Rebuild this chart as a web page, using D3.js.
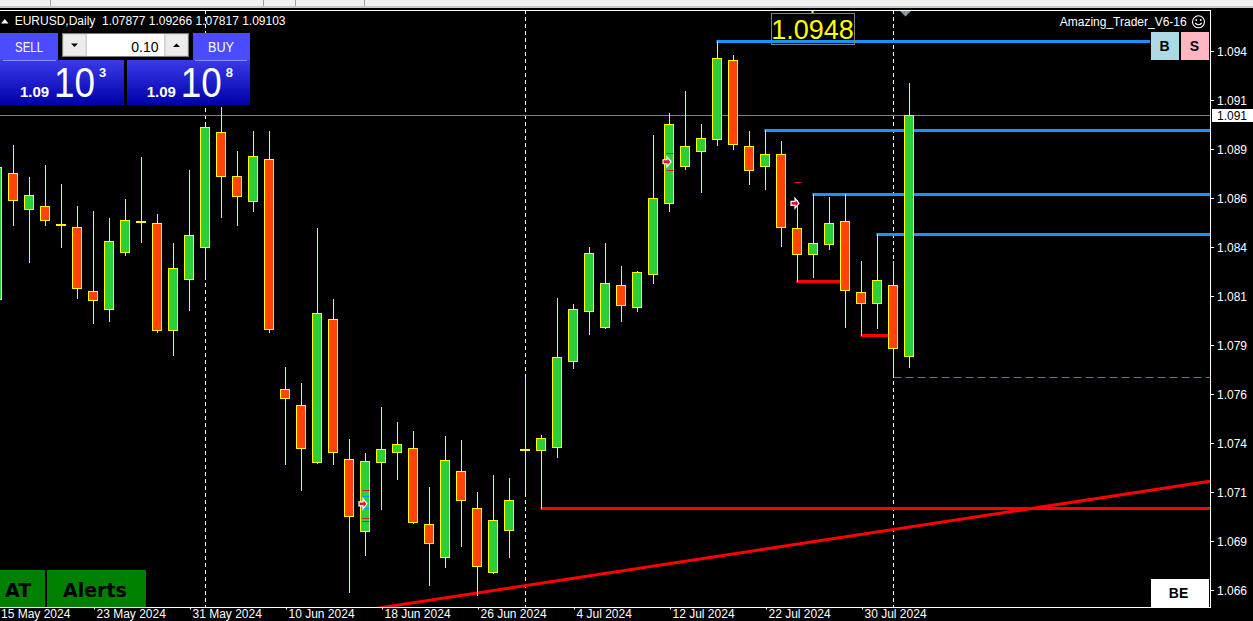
<!DOCTYPE html>
<html><head><meta charset="utf-8">
<script src="https://cdn.jsdelivr.net/npm/d3@7/dist/d3.min.js"></script>
<style>html,body{margin:0;padding:0;background:#000;overflow:hidden}svg{display:block}text{font-family:"Liberation Sans",Arial,sans-serif}</style>
</head><body><svg id="c" width="1253" height="621"></svg>
<script>
// ---------- data ----------
const dates = [
 "2024-05-15","2024-05-16","2024-05-17","2024-05-20","2024-05-21","2024-05-22","2024-05-23","2024-05-24","2024-05-27","2024-05-28","2024-05-29","2024-05-30","2024-05-31",
 "2024-06-03","2024-06-04","2024-06-05","2024-06-06","2024-06-07","2024-06-10","2024-06-11","2024-06-12","2024-06-13","2024-06-14","2024-06-17","2024-06-18","2024-06-19","2024-06-20","2024-06-21","2024-06-24","2024-06-25","2024-06-26","2024-06-27","2024-06-28",
 "2024-07-01","2024-07-02","2024-07-03","2024-07-04","2024-07-05","2024-07-08","2024-07-09","2024-07-10","2024-07-11","2024-07-12","2024-07-15","2024-07-16","2024-07-17","2024-07-18","2024-07-19","2024-07-22","2024-07-23","2024-07-24","2024-07-25","2024-07-26","2024-07-29","2024-07-30","2024-07-31",
 "2024-08-01","2024-08-02"];
const open  = [1.08164,1.08807,1.08624,1.08639,1.08550,1.08532,1.08205,1.08113,1.08404,1.08564,1.08552,1.08006,1.08266,
 1.08430,1.09016,1.08792,1.08664,1.08879,1.07705,1.07624,1.07333,1.08062,1.07348,1.06981,1.07333,1.07384,1.07404,1.07016,1.06848,1.07287,1.07098,1.06771,1.06986,
 1.07401,1.07394,1.07409,1.07851,1.08106,1.08025,1.08236,1.08124,1.08295,1.08654,1.08846,1.08922,1.08984,1.09384,1.08945,1.08843,1.08904,1.08527,1.08394,1.08448,1.08562,1.08200,1.08144,
 1.08236,1.07877];
const high  = [1.08875,1.08952,1.08788,1.08850,1.08753,1.08640,1.08615,1.08579,1.08676,1.08890,1.08600,1.08452,1.08824,
 1.09050,1.09147,1.08921,1.09023,1.09023,1.07817,1.07736,1.08528,1.08164,1.07452,1.07380,1.07613,1.07537,1.07492,1.07207,1.07467,1.07446,1.07181,1.07268,1.07251,
 1.07769,1.07470,1.08171,1.08140,1.08431,1.08452,1.08334,1.08309,1.09003,1.09115,1.09227,1.09059,1.09482,1.09411,1.09023,1.09030,1.08972,1.08671,1.08700,1.08686,1.08700,1.08360,1.08496,
 1.08360,1.09266];
const low   = [1.08135,1.08543,1.08355,1.08543,1.08433,1.08172,1.08045,1.08055,1.08392,1.08458,1.07999,1.07882,1.08111,
 1.08275,1.08586,1.08543,1.08616,1.07996,1.07324,1.07191,1.07329,1.07326,1.06673,1.06861,1.07096,1.07249,1.07021,1.06708,1.06800,1.06907,1.06656,1.06766,1.06851,
 1.07183,1.07098,1.07361,1.07814,1.07987,1.08019,1.08055,1.08106,1.08249,1.08616,1.08831,1.08712,1.08952,1.08933,1.08754,1.08729,1.08438,1.08256,1.08280,1.08421,1.08025,1.07981,1.08019,
 1.07768,1.07817];
const close = [1.08838,1.08671,1.08695,1.08567,1.08542,1.08220,1.08159,1.08460,1.08567,1.08564,1.08006,1.08322,1.08491,
 1.09042,1.08792,1.08690,1.08894,1.08014,1.07659,1.07404,1.08093,1.07384,1.07057,1.07338,1.07399,1.07425,1.07027,1.06919,1.07343,1.07142,1.06802,1.07037,1.07139,
 1.07401,1.07455,1.07868,1.08113,1.08399,1.08246,1.08137,1.08302,1.08680,1.09057,1.08945,1.08986,1.09394,1.08958,1.08822,1.08904,1.08532,1.08394,1.08452,1.08554,1.08210,1.08144,1.08261,
 1.07914,1.09103];

const yTicks = [1.09432,1.09182,1.08932,1.08682,1.08432,1.08182,1.07932,1.07682,1.07432,1.07182,1.06932,1.06682];
const xTickDates = ["2024-05-15","2024-05-23","2024-05-31","2024-06-10","2024-06-18","2024-06-26","2024-07-04","2024-07-12","2024-07-22","2024-07-30"];
const separatorDates = ["2024-06-03","2024-07-01","2024-08-01"];

const symbolName = "EURUSD,Daily";
const lastBar = {o:1.07877, h:1.09266, l:1.07817, c:1.09103};
const currentPrice = 1.09103;

const blueStart = ["2024-07-17","2024-07-22","2024-07-25","2024-07-31"];
const bluePrice = [1.09482,1.09030,1.08700,1.08496];
const redFrom  = ["2024-07-24","2024-07-30","2024-07-02"];
const redTo    = ["2024-07-29","2024-08-01",null];
const redPrice = [1.08256,1.07981,1.07098];
const dashedFrom = "2024-08-01", dashedPrice = 1.07768;
const trendDates = ["2024-06-26","2024-08-02"], trendPrices = [1.06666,1.07002];
const arrowDates = ["2024-06-17","2024-07-12","2024-07-24"], arrowPrices = [1.07121,1.08866,1.08654];
const tickDates  = ["2024-06-17","2024-06-17","2024-06-17","2024-06-17","2024-06-17","2024-07-12","2024-07-12","2024-07-24"];
const tickPrices = [1.07190,1.07159,1.07098,1.07047,1.07033,1.08909,1.08822,1.08761];
const tickColors = ["red","blue","blue","red","red","red","red","red"];

const lotSize = "0.10";
const bidParts = ["1.09","10","3"], askParts = ["1.09","10","8"];
const indicatorName = "Amazing_Trader_V6-16";

// ---------- scales ----------
const svg = d3.select("#c");
const W = 1253, H = 621;
const P = {left:0, right:1210, top:10, bottom:607};
const x = d3.scalePoint().domain(dates).range([-2.5, 909.5]);
const xi = d3.scaleLinear().domain([0, dates.length-1]).range([-2.5, 909.5]);
const y = d3.scaleLinear().domain([1.065944, 1.096505]).range([607, 8]);
const py = v => Math.round(y(v)) + 0.5;
const parse = d3.timeParse("%Y-%m-%d"), fmtDate = d3.timeFormat("%-d %b %Y");
// axis shows the price cut to three decimals (the platform's visible part)
const cut3 = v => (Math.floor(v*1000+1e-9)/1000).toFixed(3);

svg.append("rect").attr("width",W).attr("height",H).attr("fill","#000");

// top strip
svg.append("rect").attr("x",0).attr("y",0).attr("width",W).attr("height",7).attr("fill","#f0f0f0");
svg.append("rect").attr("x",0).attr("y",6).attr("width",W).attr("height",2).attr("fill","#c8c8c8");
[50,263,295,364].forEach(v=>svg.append("line").attr("x1",v+0.5).attr("x2",v+0.5).attr("y1",0).attr("y2",6).attr("stroke","#a0a0a0"));

const defs = svg.append("defs");
defs.append("clipPath").attr("id","plot").append("rect").attr("x",P.left).attr("y",P.top+1).attr("width",P.right-P.left).attr("height",P.bottom-P.top-1);
const g = svg.append("g").attr("clip-path","url(#plot)");

// month separators
g.selectAll("line.sep").data(separatorDates).join("line").attr("class","sep")
 .attr("x1",d=>x(d)).attr("x2",d=>x(d)).attr("y1",P.top).attr("y2",P.bottom)
 .attr("stroke","#fff").attr("stroke-dasharray","4,3");

// current price line
g.append("line").attr("x1",P.left).attr("x2",P.right).attr("y1",py(currentPrice)).attr("y2",py(currentPrice)).attr("stroke","#808080");

// trend line
{
  const i0 = dates.indexOf(trendDates[0]), i1 = dates.indexOf(trendDates[1]);
  const slope = (trendPrices[1]-trendPrices[0])/(i1-i0);
  const iL = xi.invert(P.left), iR = xi.invert(P.right);
  g.append("line").attr("x1",xi(iL)).attr("x2",xi(iR))
   .attr("y1",y(trendPrices[0]+(iL-i0)*slope)).attr("y2",y(trendPrices[0]+(iR-i0)*slope))
   .attr("stroke","#ff0000").attr("stroke-width",3);
}
// red levels
redPrice.forEach((p,i)=>{
  g.append("line").attr("x1",x(redFrom[i])-1).attr("x2",redTo[i]?x(redTo[i]):P.right)
   .attr("y1",py(p)).attr("y2",py(p)).attr("stroke","#ff0000").attr("stroke-width",3);
});
// blue levels
bluePrice.forEach((p,i)=>{
  g.append("line").attr("x1",x(blueStart[i])-1).attr("x2",i===0?1150:P.right)
   .attr("y1",py(p)).attr("y2",py(p)).attr("stroke","#1e90ff").attr("stroke-width",3);
});
// dashed level
g.append("line").attr("x1",x(dashedFrom)).attr("x2",P.right).attr("y1",py(dashedPrice)).attr("y2",py(dashedPrice))
 .attr("stroke","#c8541e").attr("stroke-dasharray","8,4");

// candles
const candles = dates.map((d,i)=>({d,o:open[i],h:high[i],l:low[i],c:close[i]}));
const cg = g.selectAll("g.candle").data(candles).join("g").attr("class","candle");
cg.append("line").attr("x1",d=>x(d.d)).attr("x2",d=>x(d.d))
  .attr("y1",d=>Math.round(y(d.h))).attr("y2",d=>Math.round(y(d.l))+1)
  .attr("stroke","#ffff00");
cg.append("rect")
  .attr("x",d=>x(d.d)-5).attr("width",9)
  .attr("y",d=>py(Math.max(d.o,d.c)))
  .attr("height",d=>Math.max(py(Math.min(d.o,d.c))-py(Math.max(d.o,d.c)),1))
  .attr("fill",d=>d.c>d.o?"#32cd32":(d.c<d.o?"#ff4500":"#ffff00"))
  .attr("stroke","#ffff00").attr("stroke-width",1);

// small marks and arrows
tickPrices.forEach((p,i)=>{
  g.append("line").attr("x1",x(tickDates[i])-3).attr("x2",x(tickDates[i])+4)
   .attr("y1",py(p)).attr("y2",py(p)).attr("stroke",tickColors[i]==="red"?"#dc143c":"#1e90ff");
});
arrowPrices.forEach((p,i)=>{
  const cx = x(arrowDates[i])-2.5, cy = y(p);
  g.append("path").attr("transform",`translate(${cx},${cy})`)
   .attr("d","M-4,-2 L0,-2 L0,-5 L4,0 L0,5 L0,2 L-4,2 Z")
   .attr("fill","#e0103a").attr("stroke","#fff").attr("stroke-width",1.2);
});

// frame
svg.append("line").attr("x1",0).attr("x2",P.right+1).attr("y1",10.5).attr("y2",10.5).attr("stroke","#fff");
svg.append("line").attr("x1",P.right+0.5).attr("x2",P.right+0.5).attr("y1",10).attr("y2",P.bottom+1).attr("stroke","#fff");
svg.append("line").attr("x1",0).attr("x2",P.right+1).attr("y1",P.bottom+0.5).attr("y2",P.bottom+0.5).attr("stroke","#fff");

// y axis
const ya = svg.append("g");
yTicks.forEach(t=>{
  const yy = Math.round(y(t))+0.5;
  ya.append("line").attr("x1",P.right).attr("x2",P.right+4).attr("y1",yy).attr("y2",yy).attr("stroke","#fff");
  ya.append("text").attr("x",1217).attr("y",yy+4.3).attr("fill","#fff").attr("font-size",12).text(cut3(t));
});
// current price label
svg.append("rect").attr("x",1212).attr("y",109).attr("width",41).attr("height",13).attr("fill","#fff");
svg.append("text").attr("x",1217).attr("y",120).attr("fill","#000").attr("font-size",12).text(cut3(currentPrice));

// x axis
xTickDates.forEach(d=>{
  const xx = Math.round(x(d))+0.5;
  svg.append("line").attr("x1",xx).attr("x2",xx).attr("y1",P.bottom).attr("y2",P.bottom+2.5).attr("stroke","#fff");
  svg.append("text").attr("x",Math.max(xx+2,1)).attr("y",618).attr("fill","#fff").attr("font-size",12).text(fmtDate(parse(d)));
});

// header
svg.append("path").attr("d","M1,23.5 L8.5,23.5 L4.75,19 Z").attr("fill","#fff");
svg.append("text").attr("x",14.7).attr("y",25).attr("fill","#fff").attr("font-size",12).style("white-space","pre")
  .text(symbolName+"  "+[lastBar.o,lastBar.h,lastBar.l,lastBar.c].map(d3.format(".5f")).join(" "));

// trade panel
const grad = defs.append("linearGradient").attr("id","pg").attr("x1",0).attr("x2",0).attr("y1",0).attr("y2",1);
grad.append("stop").attr("offset","0%").attr("stop-color","#3a3aea");
grad.append("stop").attr("offset","100%").attr("stop-color","#0000a8");
svg.append("rect").attr("x",0).attr("y",33).attr("width",58).attr("height",27).attr("fill","#4b4bff");
svg.append("rect").attr("x",193).attr("y",33).attr("width",57).attr("height",27).attr("fill","#4b4bff");
svg.append("rect").attr("x",0).attr("y",60).attr("width",124).attr("height",45).attr("fill","url(#pg)");
svg.append("rect").attr("x",127).attr("y",60).attr("width",123).attr("height",45).attr("fill","url(#pg)");
svg.append("line").attr("x1",3).attr("x2",56).attr("y1",60.5).attr("y2",60.5).attr("stroke","#8c8cff");
svg.append("line").attr("x1",195).attr("x2",247).attr("y1",60.5).attr("y2",60.5).attr("stroke","#8c8cff");
svg.append("text").attr("x",15).attr("y",52.3).attr("fill","#fff").attr("font-size",15).attr("textLength",28).attr("lengthAdjust","spacingAndGlyphs").text("SELL");
svg.append("text").attr("x",208).attr("y",52.3).attr("fill","#fff").attr("font-size",15).attr("textLength",26).attr("lengthAdjust","spacingAndGlyphs").text("BUY");
// lot control
svg.append("rect").attr("x",62.5).attr("y",33.5).attr("width",126).attr("height",23).attr("fill","#d4d0c8").attr("stroke","#7a7a7a");
svg.append("rect").attr("x",63.5).attr("y",34.5).attr("width",22).attr("height",21).attr("fill","#ececec");
svg.append("rect").attr("x",87).attr("y",34).attr("width",77).attr("height",22).attr("fill","#fff");
svg.append("rect").attr("x",165.5).attr("y",34.5).attr("width",22).attr("height",21).attr("fill","#ececec");
svg.append("path").attr("d","M71,43.5 L78,43.5 L74.5,47 Z").attr("fill","#000");
svg.append("path").attr("d","M173,47 L180,47 L176.5,43.5 Z").attr("fill","#000");
svg.append("text").attr("x",158.5).attr("y",51.5).attr("text-anchor","end").attr("fill","#000").attr("font-size",14).text(lotSize);
// prices
[[bidParts,0],[askParts,126.7]].forEach(([parts,dx])=>{
  svg.append("text").attr("x",20+dx).attr("y",96.7).attr("fill","#fff").attr("font-size",15).attr("font-weight","bold").text(parts[0]);
  svg.append("text").attr("x",54+dx).attr("y",96.7).attr("fill","#fff").attr("font-size",42).attr("textLength",41).attr("lengthAdjust","spacingAndGlyphs").text(parts[1]);
  svg.append("text").attr("x",99+dx).attr("y",77.3).attr("fill","#fff").attr("font-size",13).attr("font-weight","bold").text(parts[2]);
});

// top label of high level
svg.append("rect").attr("x",771.5).attr("y",13.5).attr("width",83).attr("height",31).attr("fill","none").attr("stroke","#808080");
svg.append("text").attr("x",771.3).attr("y",39).attr("fill","#ffff00").attr("font-size",27).text(d3.format(".4f")(bluePrice[0]));
svg.append("rect").attr("x",811.5).attr("y",11).attr("width",2).attr("height",2).attr("fill","#ffff00");
// shift marker
svg.append("path").attr("d","M900,11 L911,11 L905.5,16.5 Z").attr("fill","#8a96a0");

// indicator name
svg.append("text").attr("x",1186.7).attr("y",26.3).attr("text-anchor","end").attr("fill","#fff").attr("font-size",12).text(indicatorName);
const sm = svg.append("g").attr("transform","translate(1198.5,21.8)");
sm.append("circle").attr("r",6).attr("fill","none").attr("stroke","#fff").attr("stroke-width",1.1);
sm.append("circle").attr("cx",-2.2).attr("cy",-1.8).attr("r",0.9).attr("fill","#fff");
sm.append("circle").attr("cx",2.2).attr("cy",-1.8).attr("r",0.9).attr("fill","#fff");
sm.append("path").attr("d","M-3.2,1.2 Q0,4.6 3.2,1.2").attr("fill","none").attr("stroke","#fff").attr("stroke-width",1.1);

// B / S / BE buttons
svg.append("rect").attr("x",1151).attr("y",32).attr("width",28).attr("height",28).attr("fill","#add8e6");
svg.append("rect").attr("x",1181).attr("y",32).attr("width",28).attr("height",28).attr("fill","#ffb6c1");
svg.append("text").attr("x",1164.5).attr("y",50.7).attr("text-anchor","middle").attr("font-size",14).attr("font-weight","bold").attr("fill","#000").text("B");
svg.append("text").attr("x",1194.5).attr("y",50.7).attr("text-anchor","middle").attr("font-size",14).attr("font-weight","bold").attr("fill","#000").text("S");
svg.append("rect").attr("x",1151).attr("y",579).attr("width",58).attr("height",28).attr("fill","#fff");
svg.append("text").attr("x",1178.5).attr("y",598.3).attr("text-anchor","middle").attr("font-size",14).attr("font-weight","bold").attr("fill","#000").text("BE");

// AT / Alerts
svg.append("rect").attr("x",0).attr("y",570).attr("width",45).attr("height",37).attr("fill","#008000");
svg.append("rect").attr("x",47).attr("y",570).attr("width",99).attr("height",37).attr("fill","#008000");
svg.append("text").attr("x",5).attr("y",597).attr("fill","#000").attr("font-size",19).attr("font-weight","bold").style("font-family","'DejaVu Sans',sans-serif").text("AT");
svg.append("text").attr("x",63).attr("y",597).attr("fill","#000").attr("font-size",19).attr("font-weight","bold").style("font-family","'DejaVu Sans',sans-serif").text("Alerts");
</script>
</body></html>
